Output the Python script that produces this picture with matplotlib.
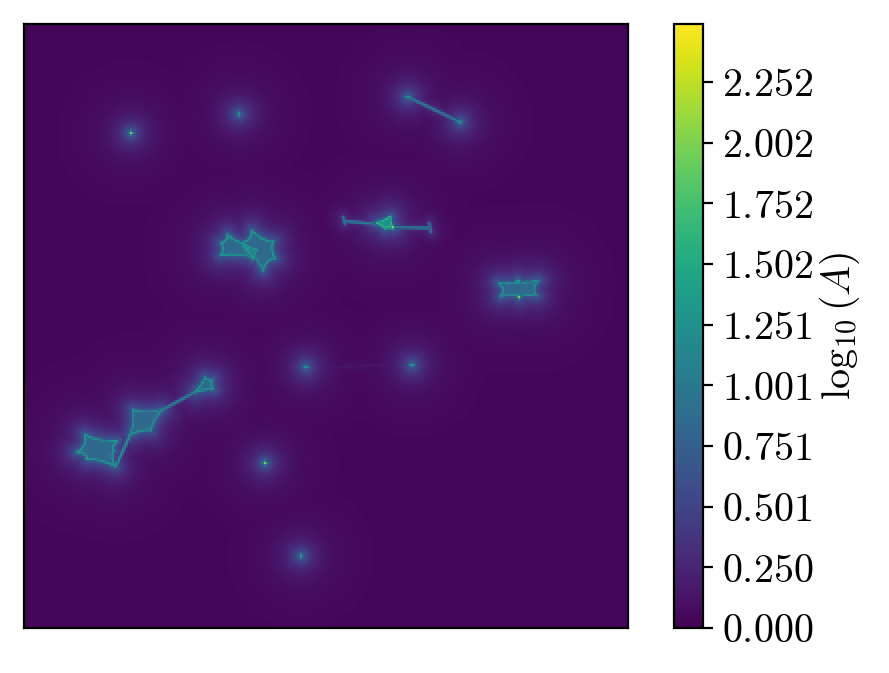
import numpy as np
import matplotlib
matplotlib.use("Agg")
import matplotlib.pyplot as plt
from matplotlib.path import Path

plt.rcParams["mathtext.fontset"] = "cm"
plt.rcParams["font.family"] = "serif"
plt.rcParams["font.serif"] = ["DejaVu Serif"]

# caustic cusps, in map pixels (0-604, y downwards)
caustic_a = [(61, 411), (93, 417), (90, 427), (91, 442), (63, 435), (54, 428)]
caustic_b = [(109, 386), (138, 386), (127, 406), (106, 411)]
caustic_c = [(181, 354), (188, 356), (189, 365), (171, 368)]
caustic_d = [(197, 219), (204, 211), (218, 219), (229, 233), (197, 231)]
caustic_e = [(228, 207), (249, 218), (251, 234), (239, 246), (218, 219)]
caustic_f = [(218, 219), (233, 226), (229, 235)]
caustic_g = [(353, 199), (366, 193), (369, 204), (361, 204)]
caustic_h = [(475, 259), (514, 257), (512, 271), (477, 272)]
caustics = [caustic_a, caustic_b, caustic_c, caustic_d, caustic_e, caustic_f, caustic_g, caustic_h]
caustic_fill = [0.85, 0.85, 0.85, 0.85, 0.85, 1.05, 1.25, 0.85]
caustic_edge = [1.3, 1.25, 1.25, 1.3, 1.3, 1.35, 1.6, 1.25]

# thin bridges between features: x0, y0, x1, y1, value
bridge_x0 = [138, 106, 320, 361, 384, 282, 319, 405]
bridge_y0 = [386, 411, 197, 203, 73, 343, 193, 199]
bridge_x1 = [171, 92, 361, 406, 436, 388, 321, 407]
bridge_y1 = [368, 442, 201, 204, 98, 341, 200, 208]
bridge_val = [1.05, 1.2, 1.0, 1.0, 1.0, 0.16, 0.9, 0.9]

# bright compact spots
spot_x = [107, 215, 384, 436, 282, 388, 241, 277, 494, 495, 362, 369, 54, 64]
spot_y = [109, 90, 73, 98, 343, 341, 439, 532, 257, 273, 204, 203, 428, 435]
spot_val = [2.0, 1.9, 2.0, 2.0, 1.9, 2.0, 2.0, 2.0, 2.1, 2.0, 2.1, 2.0, 2.0, 1.7]

# colour bar
tick_values = [0.000, 0.250, 0.501, 0.751, 1.001, 1.251, 1.502, 1.752, 2.002, 2.252]
v_max = 2.491
background = 0.04

n = 302
xs = (np.arange(n) + 0.5) * 604 / n
gx, gy = np.meshgrid(xs, xs)
grid = np.column_stack([gx.ravel(), gy.ravel()])


def curved_outline(cusps, bend=0.16):
    pts = np.array(cusps, float)
    mid = pts.mean(axis=0)
    out = []
    for i in range(len(pts)):
        p0, p1 = pts[i], pts[(i + 1) % len(pts)]
        ctrl = (p0 + p1) / 2 + bend * (mid - (p0 + p1) / 2) * 2
        t = np.linspace(0, 1, 30, endpoint=False)[:, None]
        out.append((1 - t) ** 2 * p0 + 2 * t * (1 - t) * ctrl + t ** 2 * p1)
    return np.vstack(out)


def dist_to(pts):
    d2 = np.full(len(grid), np.inf)
    for p in pts:
        d2 = np.minimum(d2, (grid[:, 0] - p[0]) ** 2 + (grid[:, 1] - p[1]) ** 2)
    return np.sqrt(d2)


field = np.full(len(grid), background)
glow = np.zeros(len(grid))

for cusps, fill, edge in zip(caustics, caustic_fill, caustic_edge):
    outline = curved_outline(cusps)
    d = dist_to(outline[::2])
    inside = Path(outline).contains_points(grid)
    field[inside] = np.maximum(field[inside], fill)
    field = np.maximum(field, edge * np.exp(-(d / 2.4) ** 2))
    glow = np.maximum(glow, 0.6 * np.exp(-d / 8) + 0.17 * np.exp(-d / 26))
    # short fading rays beyond each cusp
    mid = np.mean(cusps, axis=0)
    for c in np.array(cusps, float):
        u = (c - mid) / np.linalg.norm(c - mid)
        for t in np.linspace(0, 1, 8):
            p = c + u * t * 16
            dp = np.hypot(grid[:, 0] - p[0], grid[:, 1] - p[1])
            field = np.maximum(field, 1.0 * (1 - t) * np.exp(-dp / (2.0 + 2 * t)))

for x0, y0, x1, y1, val in zip(bridge_x0, bridge_y0, bridge_x1, bridge_y1, bridge_val):
    line = np.column_stack([np.linspace(x0, x1, 60), np.linspace(y0, y1, 60)])
    d = dist_to(line)
    field = np.maximum(field, val * np.exp(-(d / 2.2) ** 2))
    glow = np.maximum(glow, min(val, 0.6) * 0.5 * np.exp(-d / 8))

for x, y, val in zip(spot_x, spot_y, spot_val):
    dx, dy = grid[:, 0] - x, grid[:, 1] - y
    d = np.hypot(dx, dy)
    arms = np.minimum(np.abs(dx), np.abs(dy))
    field = np.maximum(field, val * np.exp(-d / 2.2))
    field = np.maximum(field, 1.5 * np.exp(-arms / 1.4) * np.exp(-d / 5))
    glow = np.maximum(glow, 0.65 * np.exp(-d / 8) + 0.18 * np.exp(-d / 24))

field = np.maximum(field, background + glow).reshape(n, n)

fig = plt.figure(figsize=(4.445, 3.365), dpi=200)
ax = fig.add_axes([24 / 889, 45 / 673, 604 / 889, 604 / 673])
cax = fig.add_axes([674 / 889, 45 / 673, 29 / 889, 604 / 673])

im = ax.imshow(field, cmap="viridis", vmin=0, vmax=v_max, extent=[0, 604, 604, 0],
               interpolation="nearest")
ax.set_xticks([])
ax.set_yticks([])

cb = fig.colorbar(im, cax=cax)
cb.set_ticks(tick_values)
cb.set_ticklabels([f"${v:.3f}$" for v in tick_values])
cb.ax.tick_params(labelsize=14.4)
cb.set_label(r"$\log_{10}(A)$", fontsize=14.4, labelpad=1.5)

fig.savefig("out.png", dpi=200)
